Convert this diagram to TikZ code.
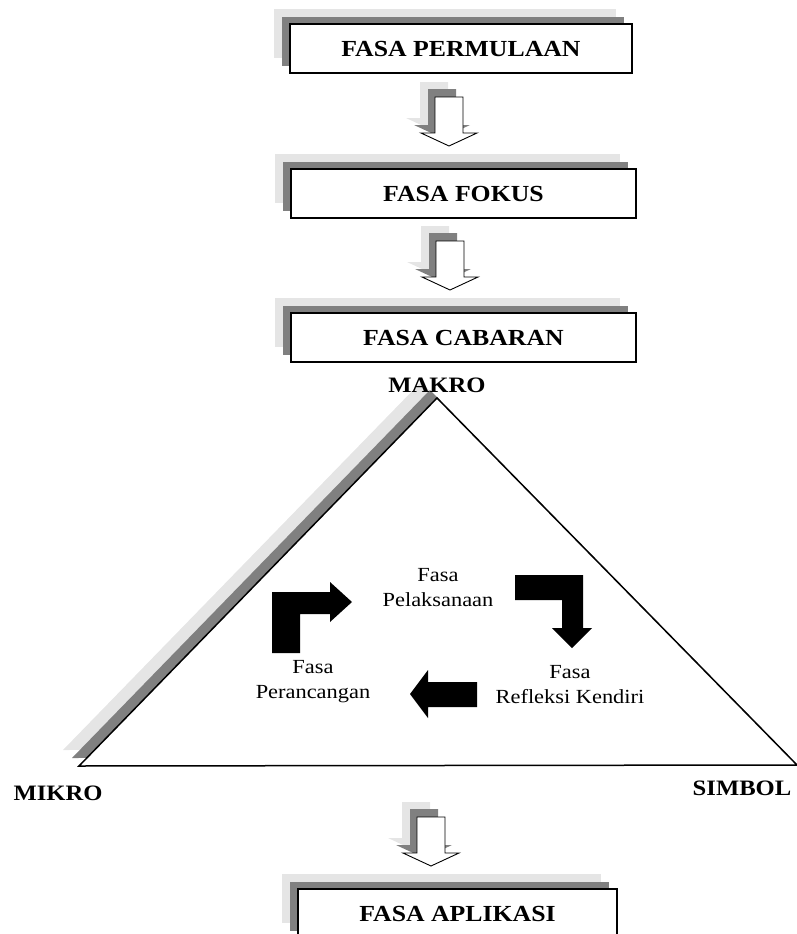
\documentclass[tikz,border=0pt]{standalone}
\usepackage{fontspec}
\setmainfont{Liberation Serif}[FakeStretch=1.12]
\usetikzlibrary{shadows, calc}

\tikzset{
  phasebox/.style={draw, line width=1.2pt, fill=white, minimum width=345pt, minimum height=49pt,
    font=\fontsize{23}{27}\selectfont\bfseries,
    general shadow={fill=black!10, shadow xshift=-16pt, shadow yshift=15pt},
    general shadow={fill=black!50, shadow xshift=-8pt, shadow yshift=7pt}},
  cornerlabel/.style={font=\fontsize{22}{26}\selectfont\bfseries},
  phasetext/.style={align=center, font=\fontsize{20}{25}\selectfont},
}

\begin{document}
\begin{tikzpicture}[x=1pt, y=-1pt]
\useasboundingbox (0,0) rectangle (797,934);

% boxes
\node[phasebox, minimum width=342pt] (permulaan) at (461,48.5) {FASA PERMULAAN};
\node[phasebox] (fokus) at (463.5,193.5) {FASA FOKUS};
\node[phasebox] (cabaran) at (463.5,337.5) {FASA CABARAN};
\node[phasebox, minimum width=319pt] (aplikasi) at (457.5,913.5) {FASA APLIKASI};

% hollow down arrows with shadow
\foreach \ax/\ay in {449/97, 450/241, 431/817} {
  \foreach \dx/\dy/\col in {-15/-15/black!10, -7/-8/black!50}
    \fill[\col, shift={(\dx,\dy)}] (\ax-14,\ay) -- (\ax+14,\ay) -- (\ax+14,\ay+36) -- (\ax+28,\ay+36)
      -- (\ax,\ay+49) -- (\ax-28,\ay+36) -- (\ax-14,\ay+36) -- cycle;
  \draw[fill=white, line width=0.9pt] (\ax-14,\ay) -- (\ax+14,\ay) -- (\ax+14,\ay+36) -- (\ax+28,\ay+36)
    -- (\ax,\ay+49) -- (\ax-28,\ay+36) -- (\ax-14,\ay+36) -- cycle;
}

% triangle
\coordinate (apex) at (437,398);
\coordinate (baseL) at (79,766);
\coordinate (baseR) at (797,765);
\foreach \dx/\dy/\col in {-16/-16/black!10, -7/-8/black!50}
  \fill[\col] ([shift={(\dx,\dy)}]apex) -- ([shift={(\dx,\dy)}]baseL) -- ([shift={(\dx,\dy)}]baseR) -- cycle;
\draw[fill=white, line width=1.5pt] (apex) -- (baseL) -- (baseR) -- cycle;

\node[cornerlabel, above=2pt] (makro) at (apex) {MAKRO};
\node[cornerlabel] (mikro) at (58,793) {MIKRO};
\node[cornerlabel] (simbol) at (742,788) {SIMBOL};

% phases inside
\node[phasetext] (pelaksanaan) at (438,588) {Fasa\\Pelaksanaan};
\node[phasetext] (refleksi) at (570,685) {Fasa\\Refleksi Kendiri};
\node[phasetext] (perancangan) at (313,682) {Fasa\\Perancangan};

% solid block arrows
\fill (272,653) -- (272,592) -- (330,592) -- (330,582) -- (352,602) -- (330,622) -- (330,614)
  -- (300,614) -- (300,653) -- cycle;
\fill (515,575) -- (583,575) -- (583,628) -- (592,628) -- (572,648) -- (552,628) -- (562,628)
  -- (562,600) -- (515,600) -- cycle;
\fill (477,682) -- (477,707) -- (428,707) -- (428,718) -- (410,694) -- (428,670) -- (428,682) -- cycle;
\end{tikzpicture}
\end{document}
